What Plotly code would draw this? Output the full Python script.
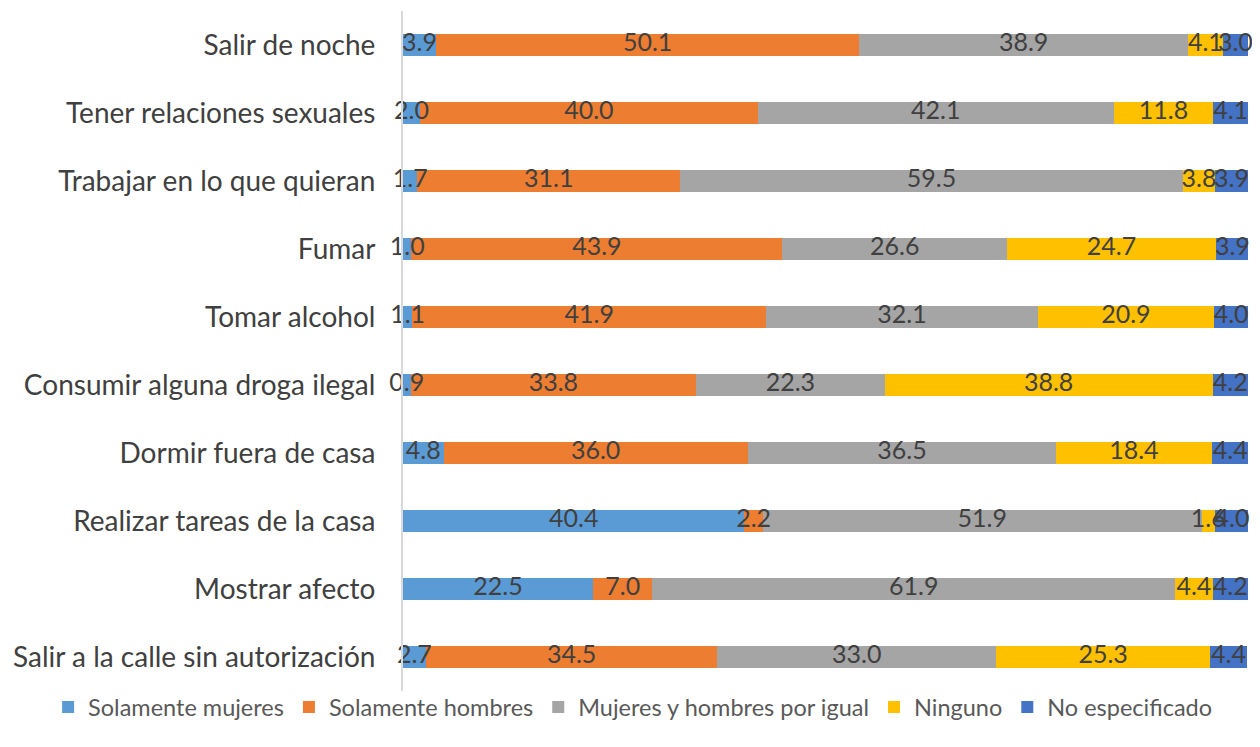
import plotly.graph_objects as go

categorias = [
    "Salir de noche",
    "Tener relaciones sexuales",
    "Trabajar en lo que quieran",
    "Fumar",
    "Tomar alcohol",
    "Consumir alguna droga ilegal",
    "Dormir fuera de casa",
    "Realizar tareas de la casa",
    "Mostrar afecto",
    "Salir a la calle sin autorización",
]

solo_mujeres = [3.9, 2.0, 1.7, 1.0, 1.1, 0.9, 4.8, 40.4, 22.5, 2.7]
solo_hombres = [50.1, 40.0, 31.1, 43.9, 41.9, 33.8, 36.0, 2.2, 7.0, 34.5]
ambos = [38.9, 42.1, 59.5, 26.6, 32.1, 22.3, 36.5, 51.9, 61.9, 33.0]
ninguno = [4.1, 11.8, 3.8, 24.7, 20.9, 38.8, 18.4, 1.6, 4.4, 25.3]
no_especificado = [3.0, 4.1, 3.9, 3.9, 4.0, 4.2, 4.4, 4.0, 4.2, 4.4]

series = [
    ("Solamente mujeres", solo_mujeres, "#5B9BD5"),
    ("Solamente hombres", solo_hombres, "#ED7D31"),
    ("Mujeres y hombres por igual", ambos, "#A5A5A5"),
    ("Ninguno", ninguno, "#FFC000"),
    ("No especificado", no_especificado, "#4472C4"),
]

fig = go.Figure()
acumulado = [0.0] * len(categorias)
for nombre, valores, color in series:
    fig.add_trace(go.Bar(
        name=nombre,
        y=categorias,
        x=valores,
        orientation="h",
        marker=dict(color=color, line=dict(width=0)),
    ))
    # etiquetas centradas en cada segmento (se dejan desbordar como en Excel)
    centros = [a + v / 2 for a, v in zip(acumulado, valores)]
    fig.add_trace(go.Scatter(
        x=centros,
        y=categorias,
        mode="text",
        text=[f"{v:.1f}" for v in valores],
        textposition="middle center",
        textfont=dict(size=25, color="#404040", family="Lato"),
        showlegend=False,
        hoverinfo="skip",
        cliponaxis=False,
    ))
    acumulado = [a + v for a, v in zip(acumulado, valores)]

# la página añade 8px de margen al body, por eso 1252x739
fig.update_layout(
    barmode="stack",
    bargap=0.69,
    width=1252,
    height=739,
    margin=dict(l=395, r=12, t=3, b=56, autoexpand=False),
    plot_bgcolor="white",
    paper_bgcolor="white",
    font=dict(family="Lato", color="#404040"),
    legend=dict(
        orientation="h",
        x=-0.42, xanchor="left",
        y=-0.024, yanchor="middle",
        font=dict(size=23.5, color="#595959"),
        bgcolor="rgba(0,0,0,0)",
        traceorder="normal",
        itemwidth=30,
    ),
)
fig.update_xaxes(range=[0, 100], visible=False)
fig.update_yaxes(
    autorange="reversed",
    automargin=False,
    showline=True, linecolor="#D9D9D9", linewidth=2,
    ticks="", ticklabelstandoff=20,
    tickfont=dict(size=28, color="#404040"),
)

fig.write_html("out.html")
